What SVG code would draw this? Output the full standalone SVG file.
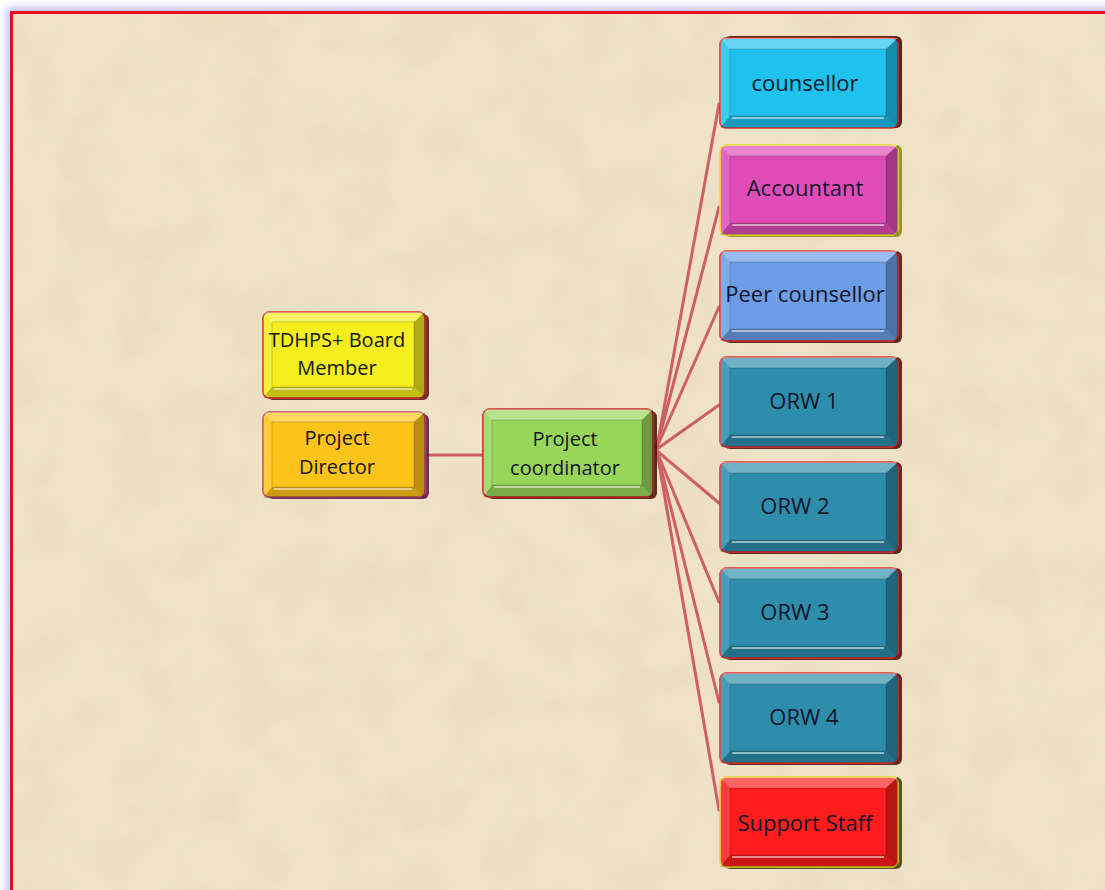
<svg xmlns="http://www.w3.org/2000/svg" xmlns:xlink="http://www.w3.org/1999/xlink" width="1105" height="890" viewBox="0 0 1105 890">
  <style>
    .lbl { font-family: "Open Sans", "Liberation Sans", sans-serif; font-size: 22px; fill: #15152a; text-anchor: middle; }
    .lbls { font-family: "Open Sans", "Liberation Sans", sans-serif; font-size: 20px; fill: #15152a; text-anchor: middle; }
    .conn { stroke: #CF5F66; stroke-width: 3; fill: none; stroke-linecap: round; }
    .shadow { opacity: 0.85; }
    .rim { stroke-width: 1.6; }
    .hiT { fill: #ffffff; opacity: 0.32; }
    .hiL { fill: #ffffff; opacity: 0.14; }
    .loR { fill: #000000; opacity: 0.28; }
    .loB { fill: #000000; opacity: 0.2; }
    .glint { stroke: #ffffff; stroke-width: 2; opacity: 0.5; fill: none; }
    .edge { stroke: #000000; stroke-width: 1; opacity: 0.18; fill: none; }
  </style>
  <defs>
    <filter id="paper" x="0" y="0" width="100%" height="100%">
      <feTurbulence type="fractalNoise" baseFrequency="0.018" numOctaves="4" seed="7" result="n"/>
      <feColorMatrix in="n" type="matrix" values="0 0 0 0 0.78  0 0 0 0 0.66  0 0 0 0 0.45  0 0 0 -1.4 0.85" result="c"/>
      <feComposite in="c" in2="SourceGraphic" operator="in"/>
    </filter>
    <filter id="glow" x="-5%" y="-5%" width="110%" height="110%">
      <feGaussianBlur stdDeviation="4"/>
    </filter>
    <!-- bevel overlays -->
    <g id="bevR">
      <polygon class="hiT" points="0,0 178,0 166,11 10,11"/>
      <polygon class="hiL" points="0,0 10,11 10,78 0,90"/>
      <polygon class="loR" points="178,0 178,90 166,78 166,11"/>
      <polygon class="loB" points="0,90 178,90 166,78 10,78"/>
      <rect class="edge" x="10" y="11" width="156" height="67"/>
      <line class="glint" x1="12" y1="80" x2="164" y2="80"/>
    </g>
    <g id="bevL">
      <polygon class="hiT" points="0,0 162,0 151,10 9,10"/>
      <polygon class="hiL" points="0,0 9,10 9,75 0,86"/>
      <polygon class="loR" points="162,0 162,86 151,75 151,10"/>
      <polygon class="loB" points="0,86 162,86 151,75 9,75"/>
      <rect class="edge" x="9" y="10" width="142" height="65"/>
      <line class="glint" x1="11" y1="77" x2="149" y2="77"/>
    </g>
    <g id="bevC">
      <polygon class="hiT" points="0,0 170,0 159,11 9,11"/>
      <polygon class="hiL" points="0,0 9,11 9,76 0,88"/>
      <polygon class="loR" points="170,0 170,88 159,76 159,11"/>
      <polygon class="loB" points="0,88 170,88 159,76 9,76"/>
      <rect class="edge" x="9" y="11" width="150" height="65"/>
      <line class="glint" x1="11" y1="78" x2="157" y2="78"/>
    </g>
  </defs>

  <!-- background -->
  <rect x="0" y="0" width="1105" height="890" fill="#ffffff"/>
  <rect x="11" y="12" width="1110" height="900" fill="none" stroke="#B8B0F0" stroke-width="8" filter="url(#glow)"/>
  <rect x="11" y="12" width="1100" height="890" fill="#EFE2C6"/>
  <rect x="11" y="12" width="1100" height="890" fill="#EFE2C6" filter="url(#paper)" opacity="0.55"/>
  <rect x="11.5" y="12.5" width="1110" height="900" fill="none" stroke="#E0101C" stroke-width="3"/>

  <!-- connectors -->
  <g id="connectors">
    <line class="conn" x1="428" y1="455" x2="484" y2="455"/>
    <line class="conn" x1="657" y1="447" x2="719" y2="104"/>
    <line class="conn" x1="657" y1="447" x2="719" y2="207"/>
    <line class="conn" x1="657" y1="447" x2="719" y2="307"/>
    <line class="conn" x1="657" y1="449" x2="719" y2="405"/>
    <line class="conn" x1="657" y1="451" x2="719" y2="503"/>
    <line class="conn" x1="657" y1="452" x2="719" y2="602"/>
    <line class="conn" x1="657" y1="452" x2="719" y2="702"/>
    <line class="conn" x1="657" y1="452" x2="719" y2="810"/>
  </g>

  <!-- left column -->
  <g id="node-board">
    <rect class="shadow" x="267" y="314" width="162" height="86" rx="6" fill="#5a0f10"/>
    <rect class="rim" x="263" y="312" width="162" height="86" rx="6" fill="#F4EE1C" stroke="#D83030"/>
    <use xlink:href="#bevL" x="263" y="312"/>
    <text class="lbls" x="337" y="347">TDHPS+ Board</text>
    <text class="lbls" x="337" y="375">Member</text>
  </g>
  <g id="node-director">
    <rect class="shadow" x="267" y="414" width="162" height="85" rx="6" fill="#5a1050"/>
    <rect class="rim" x="263" y="412" width="162" height="85" rx="6" fill="#FFC41A" stroke="#C05060"/>
    <use xlink:href="#bevL" x="263" y="412"/>
    <text class="lbls" x="337" y="445">Project</text>
    <text class="lbls" x="337" y="474">Director</text>
  </g>
  <g id="node-coordinator">
    <rect class="shadow" x="487" y="411" width="170" height="88" rx="6" fill="#4a0808"/>
    <rect class="rim" x="483" y="409" width="170" height="88" rx="6" fill="#98D65A" stroke="#D02020"/>
    <use xlink:href="#bevC" x="483" y="409"/>
    <text class="lbls" x="565" y="446">Project</text>
    <text class="lbls" x="565" y="475">coordinator</text>
  </g>

  <!-- right column -->
  <g id="node-counsellor">
    <rect class="shadow" x="724" y="36" width="178" height="92" rx="6" fill="#3a0606"/>
    <rect class="rim" x="720" y="38" width="178" height="90" rx="6" fill="#1FC1EE" stroke="#E03030"/>
    <use xlink:href="#bevR" x="720" y="38"/>
    <text class="lbl" x="805" y="91">counsellor</text>
  </g>
  <g id="node-accountant">
    <rect class="shadow" x="724" y="145" width="178" height="92" rx="6" fill="#8A8A10"/>
    <rect class="rim" x="720" y="145" width="178" height="90" rx="6" fill="#E04DB8" stroke="#E6E020"/>
    <use xlink:href="#bevR" x="720" y="145"/>
    <text class="lbl" x="805" y="196">Accountant</text>
  </g>
  <g id="node-peer">
    <rect class="shadow" x="724" y="251" width="178" height="92" rx="6" fill="#4a0808"/>
    <rect class="rim" x="720" y="251" width="178" height="90" rx="6" fill="#6C9DE6" stroke="#E03030"/>
    <use xlink:href="#bevR" x="720" y="251"/>
    <text class="lbl" x="805" y="302">Peer counsellor</text>
  </g>
  <g id="node-orw1">
    <rect class="shadow" x="724" y="357" width="178" height="92" rx="6" fill="#4a0808"/>
    <rect class="rim" x="720" y="357" width="178" height="90" rx="6" fill="#2E8DAA" stroke="#E03030"/>
    <use xlink:href="#bevR" x="720" y="357"/>
    <text class="lbl" x="804" y="409">ORW 1</text>
  </g>
  <g id="node-orw2">
    <rect class="shadow" x="724" y="462" width="178" height="92" rx="6" fill="#4a0808"/>
    <rect class="rim" x="720" y="462" width="178" height="90" rx="6" fill="#2E8DAA" stroke="#E03030"/>
    <use xlink:href="#bevR" x="720" y="462"/>
    <text class="lbl" x="795" y="514">ORW 2</text>
  </g>
  <g id="node-orw3">
    <rect class="shadow" x="724" y="568" width="178" height="92" rx="6" fill="#4a0808"/>
    <rect class="rim" x="720" y="568" width="178" height="90" rx="6" fill="#2E8DAA" stroke="#E03030"/>
    <use xlink:href="#bevR" x="720" y="568"/>
    <text class="lbl" x="795" y="620">ORW 3</text>
  </g>
  <g id="node-orw4">
    <rect class="shadow" x="724" y="673" width="178" height="92" rx="6" fill="#4a0808"/>
    <rect class="rim" x="720" y="673" width="178" height="90" rx="6" fill="#2E8DAA" stroke="#E03030"/>
    <use xlink:href="#bevR" x="720" y="673"/>
    <text class="lbl" x="804" y="725">ORW 4</text>
  </g>
  <g id="node-support">
    <rect class="shadow" x="724" y="777" width="178" height="92" rx="6" fill="#3a3a08"/>
    <rect class="rim" x="720" y="777" width="178" height="90" rx="6" fill="#FF1C1C" stroke="#E4D820"/>
    <use xlink:href="#bevR" x="720" y="777"/>
    <text class="lbl" x="805" y="831">Support Staff</text>
  </g>
</svg>
